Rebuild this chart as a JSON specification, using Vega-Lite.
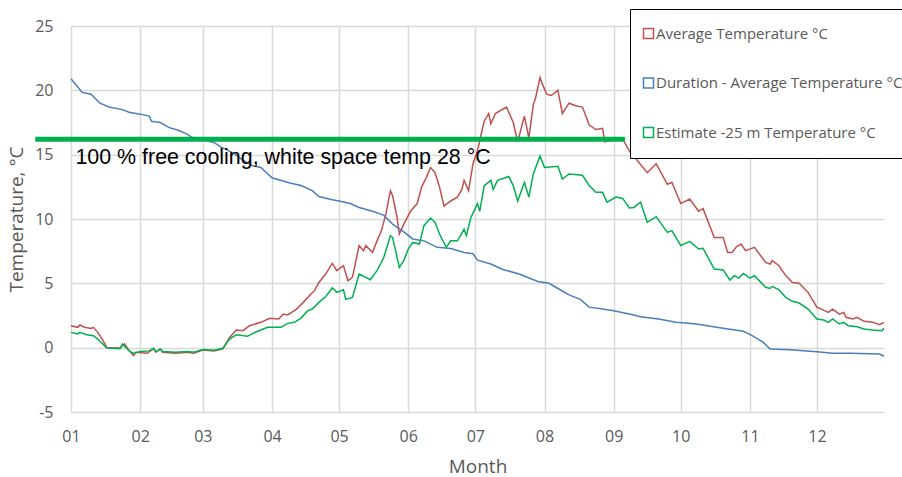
{
  "$schema": "https://vega.github.io/schema/vega-lite/v6.json",
  "width": 813,
  "height": 386,
  "autosize": {"type": "none"},
  "padding": {"left": 71, "top": 26, "right": 18, "bottom": 65},
  "background": "white",
  "config": {
    "view": {"stroke": null},
    "font": "Open Sans",
    "axis": {
      "domain": false,
      "ticks": false,
      "gridColor": "#d9d9d9",
      "gridWidth": 1.5,
      "labelColor": "#595959",
      "labelFont": "Open Sans",
      "labelFontSize": 16,
      "titleColor": "#595959",
      "titleFont": "Open Sans",
      "titleFontSize": 19,
      "titleFontWeight": "normal"
    }
  },
  "datasets": {
    "dur": [
      {"d": "2019-01-01", "v": 20.9}, {"d": "2019-01-06", "v": 19.84}, {"d": "2019-01-10", "v": 19.7},
      {"d": "2019-01-14", "v": 19.0}, {"d": "2019-01-18", "v": 18.7}, {"d": "2019-01-24", "v": 18.5},
      {"d": "2019-01-27", "v": 18.3}, {"d": "2019-02-01", "v": 18.15}, {"d": "2019-02-05", "v": 18.0},
      {"d": "2019-02-06", "v": 17.6}, {"d": "2019-02-10", "v": 17.5}, {"d": "2019-02-14", "v": 17.1},
      {"d": "2019-02-18", "v": 16.9}, {"d": "2019-02-22", "v": 16.6}, {"d": "2019-02-24", "v": 16.35},
      {"d": "2019-02-28", "v": 16.2}, {"d": "2019-03-06", "v": 15.95}, {"d": "2019-03-09", "v": 15.6},
      {"d": "2019-03-15", "v": 15.1}, {"d": "2019-03-18", "v": 14.7}, {"d": "2019-03-23", "v": 14.15},
      {"d": "2019-03-27", "v": 14.0}, {"d": "2019-04-01", "v": 13.2}, {"d": "2019-04-09", "v": 12.8},
      {"d": "2019-04-14", "v": 12.6}, {"d": "2019-04-19", "v": 12.2}, {"d": "2019-04-22", "v": 11.75},
      {"d": "2019-04-28", "v": 11.5}, {"d": "2019-05-01", "v": 11.4}, {"d": "2019-05-06", "v": 11.2},
      {"d": "2019-05-10", "v": 10.9}, {"d": "2019-05-16", "v": 10.6}, {"d": "2019-05-21", "v": 10.3},
      {"d": "2019-05-25", "v": 9.6}, {"d": "2019-05-30", "v": 9.0}, {"d": "2019-06-03", "v": 8.45},
      {"d": "2019-06-08", "v": 8.3}, {"d": "2019-06-14", "v": 7.8}, {"d": "2019-06-20", "v": 7.7},
      {"d": "2019-06-26", "v": 7.4}, {"d": "2019-06-30", "v": 7.3}, {"d": "2019-07-02", "v": 6.8},
      {"d": "2019-07-08", "v": 6.5}, {"d": "2019-07-13", "v": 6.1}, {"d": "2019-07-21", "v": 5.7},
      {"d": "2019-07-29", "v": 5.15}, {"d": "2019-08-03", "v": 5.0}, {"d": "2019-08-08", "v": 4.5},
      {"d": "2019-08-12", "v": 4.1}, {"d": "2019-08-17", "v": 3.75}, {"d": "2019-08-21", "v": 3.15},
      {"d": "2019-08-27", "v": 3.0}, {"d": "2019-09-01", "v": 2.87}, {"d": "2019-09-08", "v": 2.62},
      {"d": "2019-09-13", "v": 2.4}, {"d": "2019-09-21", "v": 2.23}, {"d": "2019-09-29", "v": 1.97},
      {"d": "2019-10-08", "v": 1.84}, {"d": "2019-10-17", "v": 1.58}, {"d": "2019-10-29", "v": 1.27},
      {"d": "2019-11-02", "v": 0.93}, {"d": "2019-11-07", "v": 0.41}, {"d": "2019-11-10", "v": -0.1},
      {"d": "2019-11-19", "v": -0.16}, {"d": "2019-12-01", "v": -0.31}, {"d": "2019-12-08", "v": -0.44},
      {"d": "2019-12-16", "v": -0.44}, {"d": "2019-12-29", "v": -0.49}, {"d": "2019-12-31", "v": -0.67}
    ],
    "avg": [
      {"d": "2019-01-01", "v": 1.71}, {"d": "2019-01-04", "v": 1.58}, {"d": "2019-01-05", "v": 1.76},
      {"d": "2019-01-07", "v": 1.58}, {"d": "2019-01-10", "v": 1.5}, {"d": "2019-01-11", "v": 1.58},
      {"d": "2019-01-13", "v": 1.19}, {"d": "2019-01-15", "v": 0.67}, {"d": "2019-01-17", "v": 0.02},
      {"d": "2019-01-23", "v": -0.03}, {"d": "2019-01-24", "v": 0.15}, {"d": "2019-01-25", "v": 0.29},
      {"d": "2019-01-27", "v": -0.23}, {"d": "2019-01-29", "v": -0.62}, {"d": "2019-01-30", "v": -0.36},
      {"d": "2019-02-04", "v": -0.44}, {"d": "2019-02-07", "v": -0.1}, {"d": "2019-02-08", "v": -0.36},
      {"d": "2019-02-10", "v": -0.1}, {"d": "2019-02-11", "v": -0.36}, {"d": "2019-02-17", "v": -0.44},
      {"d": "2019-02-22", "v": -0.36}, {"d": "2019-02-25", "v": -0.44}, {"d": "2019-03-01", "v": -0.18},
      {"d": "2019-03-06", "v": -0.25}, {"d": "2019-03-10", "v": -0.1}, {"d": "2019-03-13", "v": 0.8},
      {"d": "2019-03-16", "v": 1.37}, {"d": "2019-03-19", "v": 1.32}, {"d": "2019-03-22", "v": 1.71},
      {"d": "2019-03-27", "v": 1.97}, {"d": "2019-03-31", "v": 2.28}, {"d": "2019-04-04", "v": 2.23},
      {"d": "2019-04-06", "v": 2.62}, {"d": "2019-04-08", "v": 2.54}, {"d": "2019-04-12", "v": 3.0},
      {"d": "2019-04-15", "v": 3.52}, {"d": "2019-04-18", "v": 4.09}, {"d": "2019-04-20", "v": 4.43},
      {"d": "2019-04-22", "v": 5.07}, {"d": "2019-04-25", "v": 5.72}, {"d": "2019-04-28", "v": 6.55},
      {"d": "2019-04-30", "v": 5.98}, {"d": "2019-05-03", "v": 6.37}, {"d": "2019-05-05", "v": 5.2},
      {"d": "2019-05-07", "v": 5.46}, {"d": "2019-05-10", "v": 7.93}, {"d": "2019-05-12", "v": 7.54},
      {"d": "2019-05-13", "v": 7.93}, {"d": "2019-05-16", "v": 7.4}, {"d": "2019-05-18", "v": 8.3},
      {"d": "2019-05-20", "v": 9.1}, {"d": "2019-05-22", "v": 10.4}, {"d": "2019-05-24", "v": 12.2},
      {"d": "2019-05-25", "v": 11.8}, {"d": "2019-05-27", "v": 10.1}, {"d": "2019-05-28", "v": 8.83},
      {"d": "2019-05-30", "v": 9.6}, {"d": "2019-06-02", "v": 10.6}, {"d": "2019-06-05", "v": 11.2},
      {"d": "2019-06-07", "v": 12.5}, {"d": "2019-06-09", "v": 13.2}, {"d": "2019-06-11", "v": 14.0},
      {"d": "2019-06-13", "v": 13.6}, {"d": "2019-06-15", "v": 12.5}, {"d": "2019-06-17", "v": 11.0},
      {"d": "2019-06-20", "v": 11.4}, {"d": "2019-06-23", "v": 11.7}, {"d": "2019-06-25", "v": 12.3},
      {"d": "2019-06-26", "v": 13.0}, {"d": "2019-06-28", "v": 12.2}, {"d": "2019-06-30", "v": 14.3},
      {"d": "2019-07-02", "v": 15.3}, {"d": "2019-07-03", "v": 16.1}, {"d": "2019-07-05", "v": 17.6},
      {"d": "2019-07-07", "v": 18.2}, {"d": "2019-07-08", "v": 17.4}, {"d": "2019-07-10", "v": 18.2},
      {"d": "2019-07-15", "v": 18.7}, {"d": "2019-07-18", "v": 17.5}, {"d": "2019-07-20", "v": 16.0},
      {"d": "2019-07-23", "v": 18.0}, {"d": "2019-07-25", "v": 16.3}, {"d": "2019-07-27", "v": 18.9},
      {"d": "2019-07-28", "v": 19.4}, {"d": "2019-07-30", "v": 21.0}, {"d": "2019-07-31", "v": 20.5},
      {"d": "2019-08-02", "v": 19.7}, {"d": "2019-08-04", "v": 19.6}, {"d": "2019-08-07", "v": 20.0},
      {"d": "2019-08-09", "v": 18.2}, {"d": "2019-08-12", "v": 19.0}, {"d": "2019-08-15", "v": 18.8},
      {"d": "2019-08-18", "v": 18.7}, {"d": "2019-08-21", "v": 17.3}, {"d": "2019-08-24", "v": 16.95},
      {"d": "2019-08-27", "v": 17.05}, {"d": "2019-08-28", "v": 16.0}, {"d": "2019-09-02", "v": 16.2},
      {"d": "2019-09-05", "v": 16.2}, {"d": "2019-09-08", "v": 15.3}, {"d": "2019-09-16", "v": 13.6},
      {"d": "2019-09-20", "v": 14.3}, {"d": "2019-09-25", "v": 12.7}, {"d": "2019-09-27", "v": 12.85},
      {"d": "2019-10-01", "v": 11.2}, {"d": "2019-10-05", "v": 11.55}, {"d": "2019-10-09", "v": 10.6},
      {"d": "2019-10-11", "v": 10.8}, {"d": "2019-10-16", "v": 8.57}, {"d": "2019-10-20", "v": 8.57},
      {"d": "2019-10-22", "v": 7.4}, {"d": "2019-10-24", "v": 7.4}, {"d": "2019-10-26", "v": 7.85},
      {"d": "2019-10-28", "v": 8.06}, {"d": "2019-10-30", "v": 7.54}, {"d": "2019-11-03", "v": 7.8},
      {"d": "2019-11-08", "v": 6.63}, {"d": "2019-11-10", "v": 6.5}, {"d": "2019-11-11", "v": 6.76},
      {"d": "2019-11-14", "v": 6.37}, {"d": "2019-11-17", "v": 5.6}, {"d": "2019-11-20", "v": 5.07},
      {"d": "2019-11-23", "v": 5.0}, {"d": "2019-11-27", "v": 4.3}, {"d": "2019-12-01", "v": 3.13},
      {"d": "2019-12-03", "v": 3.0}, {"d": "2019-12-06", "v": 2.74}, {"d": "2019-12-08", "v": 3.0},
      {"d": "2019-12-11", "v": 2.6}, {"d": "2019-12-13", "v": 2.74}, {"d": "2019-12-14", "v": 2.36},
      {"d": "2019-12-17", "v": 2.23}, {"d": "2019-12-19", "v": 2.36}, {"d": "2019-12-22", "v": 2.05},
      {"d": "2019-12-26", "v": 1.97}, {"d": "2019-12-29", "v": 1.79}, {"d": "2019-12-31", "v": 1.97}
    ],
    "est": [
      {"d": "2019-01-01", "v": 1.19}, {"d": "2019-01-04", "v": 1.06}, {"d": "2019-01-05", "v": 1.19},
      {"d": "2019-01-08", "v": 1.0}, {"d": "2019-01-11", "v": 0.93}, {"d": "2019-01-13", "v": 0.67},
      {"d": "2019-01-17", "v": -0.03}, {"d": "2019-01-23", "v": -0.08}, {"d": "2019-01-24", "v": 0.29},
      {"d": "2019-01-27", "v": -0.23}, {"d": "2019-01-29", "v": -0.45}, {"d": "2019-02-01", "v": -0.3},
      {"d": "2019-02-05", "v": -0.25}, {"d": "2019-02-07", "v": -0.05}, {"d": "2019-02-08", "v": -0.3},
      {"d": "2019-02-10", "v": -0.1}, {"d": "2019-02-11", "v": -0.3}, {"d": "2019-02-17", "v": -0.35},
      {"d": "2019-02-22", "v": -0.3}, {"d": "2019-02-25", "v": -0.35}, {"d": "2019-03-01", "v": -0.15},
      {"d": "2019-03-06", "v": -0.2}, {"d": "2019-03-10", "v": -0.05}, {"d": "2019-03-13", "v": 0.67},
      {"d": "2019-03-16", "v": 1.0}, {"d": "2019-03-21", "v": 0.88}, {"d": "2019-03-25", "v": 1.24},
      {"d": "2019-03-30", "v": 1.58}, {"d": "2019-04-05", "v": 1.58}, {"d": "2019-04-08", "v": 1.89},
      {"d": "2019-04-11", "v": 1.97}, {"d": "2019-04-14", "v": 2.3}, {"d": "2019-04-17", "v": 2.87},
      {"d": "2019-04-19", "v": 3.0}, {"d": "2019-04-22", "v": 3.52}, {"d": "2019-04-25", "v": 3.96},
      {"d": "2019-04-28", "v": 4.64}, {"d": "2019-04-30", "v": 4.3}, {"d": "2019-05-03", "v": 4.5},
      {"d": "2019-05-04", "v": 3.75}, {"d": "2019-05-07", "v": 3.91}, {"d": "2019-05-10", "v": 5.72},
      {"d": "2019-05-13", "v": 5.46}, {"d": "2019-05-15", "v": 5.28}, {"d": "2019-05-18", "v": 5.98},
      {"d": "2019-05-21", "v": 7.0}, {"d": "2019-05-24", "v": 8.7}, {"d": "2019-05-25", "v": 8.57},
      {"d": "2019-05-28", "v": 6.24}, {"d": "2019-05-30", "v": 6.76}, {"d": "2019-06-01", "v": 7.67},
      {"d": "2019-06-03", "v": 8.18}, {"d": "2019-06-06", "v": 8.05}, {"d": "2019-06-08", "v": 9.48},
      {"d": "2019-06-11", "v": 10.08}, {"d": "2019-06-13", "v": 9.74}, {"d": "2019-06-15", "v": 8.83},
      {"d": "2019-06-18", "v": 7.8}, {"d": "2019-06-20", "v": 8.3}, {"d": "2019-06-23", "v": 8.3},
      {"d": "2019-06-26", "v": 9.2}, {"d": "2019-06-27", "v": 8.7}, {"d": "2019-06-29", "v": 10.1},
      {"d": "2019-07-02", "v": 11.2}, {"d": "2019-07-03", "v": 10.6}, {"d": "2019-07-05", "v": 12.6},
      {"d": "2019-07-08", "v": 13.0}, {"d": "2019-07-09", "v": 12.3}, {"d": "2019-07-11", "v": 13.0},
      {"d": "2019-07-16", "v": 13.3}, {"d": "2019-07-18", "v": 12.6}, {"d": "2019-07-20", "v": 11.4},
      {"d": "2019-07-23", "v": 12.85}, {"d": "2019-07-25", "v": 11.7}, {"d": "2019-07-27", "v": 13.5},
      {"d": "2019-07-30", "v": 14.9}, {"d": "2019-08-01", "v": 14.0}, {"d": "2019-08-07", "v": 14.1},
      {"d": "2019-08-09", "v": 13.1}, {"d": "2019-08-12", "v": 13.5}, {"d": "2019-08-18", "v": 13.4},
      {"d": "2019-08-21", "v": 12.6}, {"d": "2019-08-24", "v": 12.07}, {"d": "2019-08-27", "v": 12.07},
      {"d": "2019-08-29", "v": 11.3}, {"d": "2019-09-02", "v": 11.7}, {"d": "2019-09-05", "v": 11.6},
      {"d": "2019-09-08", "v": 10.85}, {"d": "2019-09-10", "v": 10.9}, {"d": "2019-09-13", "v": 11.3},
      {"d": "2019-09-16", "v": 9.74}, {"d": "2019-09-20", "v": 10.18}, {"d": "2019-09-25", "v": 8.96},
      {"d": "2019-09-27", "v": 9.1}, {"d": "2019-10-01", "v": 7.93}, {"d": "2019-10-05", "v": 8.26},
      {"d": "2019-10-09", "v": 7.67}, {"d": "2019-10-11", "v": 7.72}, {"d": "2019-10-16", "v": 6.11},
      {"d": "2019-10-20", "v": 6.04}, {"d": "2019-10-23", "v": 5.26}, {"d": "2019-10-25", "v": 5.6},
      {"d": "2019-10-27", "v": 5.41}, {"d": "2019-10-29", "v": 5.77}, {"d": "2019-11-01", "v": 5.41},
      {"d": "2019-11-03", "v": 5.6}, {"d": "2019-11-08", "v": 4.69}, {"d": "2019-11-10", "v": 4.6},
      {"d": "2019-11-11", "v": 4.77}, {"d": "2019-11-14", "v": 4.5}, {"d": "2019-11-17", "v": 3.91},
      {"d": "2019-11-20", "v": 3.6}, {"d": "2019-11-23", "v": 3.47}, {"d": "2019-11-27", "v": 3.0},
      {"d": "2019-12-01", "v": 2.23}, {"d": "2019-12-04", "v": 2.15}, {"d": "2019-12-06", "v": 1.97},
      {"d": "2019-12-08", "v": 2.23}, {"d": "2019-12-11", "v": 1.84}, {"d": "2019-12-13", "v": 1.97},
      {"d": "2019-12-15", "v": 1.71}, {"d": "2019-12-19", "v": 1.63}, {"d": "2019-12-22", "v": 1.45},
      {"d": "2019-12-26", "v": 1.37}, {"d": "2019-12-30", "v": 1.32}, {"d": "2019-12-31", "v": 1.5}
    ],
    "limit": [
      {"d": "2018-12-16", "d2": "2019-09-06", "v": 16.2}
    ],
    "note": [
      {"d": "2019-01-03", "v": 14.3, "label": "100 % free cooling, white space temp 28 °C"}
    ]
  },
  "encoding": {
    "x": {
      "field": "d",
      "type": "temporal",
      "title": "Month",
      "scale": {"domain": [{"year": 2019, "month": 1, "date": 1}, {"year": 2019, "month": 12, "date": 31}]},
      "axis": {"tickCount": {"interval": "month", "step": 1}, "format": "%m", "labelFlush": false, "labelPadding": 16, "titlePadding": 13}
    },
    "y": {
      "field": "v",
      "type": "quantitative",
      "title": "Temperature, °C",
      "scale": {"domain": [-5, 25]},
      "axis": {"values": [-5, 0, 5, 10, 15, 20, 25], "labelExpr": "'' + datum.value", "labelPadding": 18, "titlePadding": 8}
    }
  },
  "layer": [
    {
      "data": {"name": "avg"},
      "mark": {"type": "line", "strokeWidth": 1.5},
      "encoding": {
        "color": {
          "datum": "Average Temperature °C",
          "scale": {
            "domain": ["Average Temperature °C", "Duration - Average Temperature °C", "Estimate -25 m Temperature °C"],
            "range": ["#c0504d", "#4a7ebb", "#00b050"]
          },
          "legend": {
            "orient": "none",
            "legendX": 559,
            "legendY": -17,
            "title": null,
            "padding": 17,
            "rowPadding": 32.5,
            "symbolType": "square",
            "symbolSize": 100,
            "symbolStrokeWidth": 1.5,
            "symbolFillColor": "white",
            "symbolOffset": -6,
            "labelFont": "Open Sans",
            "labelFontSize": 15,
            "labelColor": "#595959",
            "labelLimit": 600,
            "labelOffset": 0,
            "strokeColor": "black",
            "fillColor": "white"
          }
        }
      }
    },
    {
      "data": {"name": "dur"},
      "mark": {"type": "line", "strokeWidth": 1.5},
      "encoding": {"color": {"datum": "Duration - Average Temperature °C"}}
    },
    {
      "data": {"name": "est"},
      "mark": {"type": "line", "strokeWidth": 1.5},
      "encoding": {"color": {"datum": "Estimate -25 m Temperature °C"}}
    },
    {
      "data": {"name": "limit"},
      "mark": {"type": "rule", "color": "#00b050", "strokeWidth": 5},
      "encoding": {"x2": {"field": "d2"}}
    },
    {
      "data": {"name": "note"},
      "mark": {"type": "text", "align": "left", "baseline": "alphabetic", "font": "Liberation Sans", "fontSize": 21.4, "color": "black"},
      "encoding": {"text": {"field": "label"}}
    }
  ]
}
